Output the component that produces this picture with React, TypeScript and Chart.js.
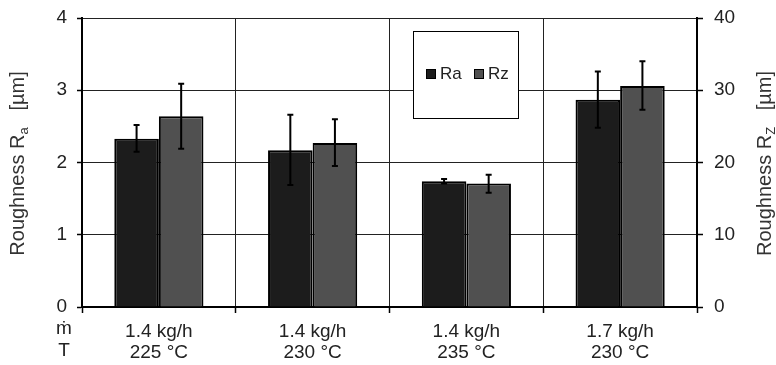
import React, { useEffect, useRef } from "react";
import { Chart, registerables } from "chart.js";

Chart.register(...registerables);

const categories: string[][] = [
  ["1.4 kg/h", "225 °C"],
  ["1.4 kg/h", "230 °C"],
  ["1.4 kg/h", "235 °C"],
  ["1.7 kg/h", "230 °C"],
];
const raValues = [2.33, 2.17, 1.74, 2.87];
const raLow = [2.15, 1.69, 1.71, 2.48];
const raHigh = [2.52, 2.66, 1.77, 3.26];
const rzValues = [26.4, 22.7, 17.1, 30.6];
const rzLow = [21.9, 19.5, 15.8, 27.3];
const rzHigh = [30.9, 26.0, 18.3, 34.0];
const leftTicks = [0, 1, 2, 3, 4];
const rightTicks = [0, 10, 20, 30, 40];
const rowLabels = ["ṁ", "T"];

const FONT = "'Liberation Sans', Arial, sans-serif";

const errorBarPlugin = {
  id: "errorBars",
  afterDatasetsDraw(chart: any) {
    const ctx = chart.ctx;
    const sets = [
      { low: raLow, high: raHigh, axis: "y" },
      { low: rzLow, high: rzHigh, axis: "y2" },
    ];
    ctx.save();
    ctx.strokeStyle = "#000";
    ctx.lineWidth = 2;
    sets.forEach((s, i) => {
      const meta = chart.getDatasetMeta(i);
      const scale = chart.scales[s.axis];
      meta.data.forEach((bar: any, j: number) => {
        const x = bar.x;
        const yt = scale.getPixelForValue(s.high[j]);
        const yb = scale.getPixelForValue(s.low[j]);
        ctx.beginPath();
        ctx.moveTo(x, yt);
        ctx.lineTo(x, yb);
        ctx.moveTo(x - 3, yt);
        ctx.lineTo(x + 3, yt);
        ctx.moveTo(x - 3, yb);
        ctx.lineTo(x + 3, yb);
        ctx.stroke();
      });
    });
    ctx.restore();
  },
};

const legendPlugin = {
  id: "customLegend",
  afterDatasetsDraw(chart: any) {
    const ctx = chart.ctx;
    const ca = chart.chartArea;
    const bx = ca.left + 331;
    const by = ca.top + 13;
    const bw = 105;
    const bh = 87;
    ctx.save();
    ctx.fillStyle = "#fff";
    ctx.fillRect(bx, by, bw, bh);
    ctx.strokeStyle = "#000";
    ctx.lineWidth = 1;
    ctx.strokeRect(bx + 0.5, by + 0.5, bw, bh);
    const items = [
      { label: "Ra", color: "#1c1c1c", x: bx + 13 },
      { label: "Rz", color: "#505050", x: bx + 61 },
    ];
    ctx.font = `17px ${FONT}`;
    ctx.textBaseline = "middle";
    items.forEach((it) => {
      ctx.fillStyle = it.color;
      ctx.fillRect(it.x, by + 38, 10, 10);
      ctx.strokeStyle = "#000";
      ctx.strokeRect(it.x + 0.5, by + 38.5, 9, 9);
      ctx.fillStyle = "#222";
      ctx.textAlign = "left";
      ctx.fillText(it.label, it.x + 14, by + 43);
    });
    ctx.restore();
  },
};

const titlePlugin = {
  id: "axisTitles",
  afterDraw(chart: any) {
    const ctx = chart.ctx;
    const ca = chart.chartArea;
    const cy = (ca.top + ca.bottom) / 2 + 1;
    const drawTitle = (cx: number, sub: string) => {
      ctx.save();
      ctx.translate(cx, cy);
      ctx.rotate(-Math.PI / 2);
      ctx.fillStyle = "#333";
      ctx.textBaseline = "alphabetic";
      ctx.textAlign = "left";
      const main = "Roughness R";
      const tail = "   [µm]";
      ctx.font = `20px ${FONT}`;
      const w1 = ctx.measureText(main).width;
      const w3 = ctx.measureText(tail).width;
      ctx.font = `13px ${FONT}`;
      const w2 = ctx.measureText(sub).width;
      const total = w1 + w2 + w3;
      let x = -total / 2;
      const base = 7;
      ctx.font = `20px ${FONT}`;
      ctx.fillText(main, x, base);
      x += w1;
      ctx.font = `13px ${FONT}`;
      ctx.fillText(sub, x, base + 4);
      x += w2;
      ctx.font = `20px ${FONT}`;
      ctx.fillText(tail, x, base);
      ctx.restore();
    };
    drawTitle(17, "a");
    drawTitle(764, "Z");

    ctx.save();
    ctx.font = `19px ${FONT}`;
    ctx.fillStyle = "#222";
    ctx.textAlign = "center";
    ctx.textBaseline = "middle";
    ctx.fillText(rowLabels[0], 64, ca.bottom + 22);
    ctx.fillText(rowLabels[1], 64, ca.bottom + 44);
    ctx.restore();
  },
};

export default function App() {
  const ref = useRef<HTMLCanvasElement>(null);
  useEffect(() => {
    if (!ref.current) return;
    const chart = new Chart(ref.current, {
      type: "bar",
      data: {
        labels: categories,
        datasets: [
          {
            label: "Ra",
            data: raValues,
            yAxisID: "y",
            backgroundColor: "#1c1c1c",
            borderColor: "#000",
            borderWidth: 2,
            categoryPercentage: 0.58,
            barPercentage: 1,
          },
          {
            label: "Rz",
            data: rzValues,
            yAxisID: "y2",
            backgroundColor: "#505050",
            borderColor: "#000",
            borderWidth: 2,
            categoryPercentage: 0.58,
            barPercentage: 1,
          },
        ],
      },
      options: {
        animation: false,
        responsive: false,
        maintainAspectRatio: false,
        layout: { padding: { top: 18, left: 0, right: 0, bottom: 0 } },
        plugins: {
          legend: { display: false },
          tooltip: { enabled: false },
        },
        scales: {
          x: {
            offset: true,
            grid: {
              offset: true,
              color: "#222",
              lineWidth: 1,
              tickLength: 6,
              tickColor: "#000",
              tickWidth: 1.5,
            },
            border: { color: "#000", width: 2 },
            ticks: {
              color: "#222",
              font: { family: FONT, size: 19, lineHeight: 1.1 },
              padding: 8,
              maxRotation: 0,
            },
            afterFit: (s: any) => {
              s.height = 58;
              s.paddingLeft = 0;
              s.paddingRight = 0;
            },
          },
          y: {
            position: "left",
            min: 0,
            max: 4,
            afterBuildTicks: (s: any) => {
              s.ticks = leftTicks.map((v) => ({ value: v }));
            },
            grid: {
              color: "#222",
              lineWidth: 1,
              tickLength: 5,
              tickColor: "#000",
              tickWidth: 1.5,
            },
            border: { color: "#000", width: 2 },
            ticks: {
              color: "#222",
              font: { family: FONT, size: 19 },
              padding: 10,
            },
            afterFit: (s: any) => {
              s.width = 82;
              s.paddingTop = 0;
              s.paddingBottom = 0;
            },
          },
          y2: {
            position: "right",
            min: 0,
            max: 40,
            afterBuildTicks: (s: any) => {
              s.ticks = rightTicks.map((v) => ({ value: v }));
            },
            grid: {
              drawOnChartArea: false,
              tickLength: 6,
              tickColor: "#000",
              tickWidth: 1.5,
            },
            border: { color: "#000", width: 2 },
            ticks: {
              color: "#222",
              font: { family: FONT, size: 19 },
              padding: 11,
            },
            afterFit: (s: any) => {
              s.width = 79;
              s.paddingTop = 0;
              s.paddingBottom = 0;
            },
          },
        },
      },
      plugins: [errorBarPlugin, legendPlugin, titlePlugin],
    });
    return () => chart.destroy();
  }, []);

  return (
    <div
      style={{
        position: "fixed",
        left: 0,
        top: 0,
        width: 776,
        height: 365,
        background: "#fff",
      }}
    >
      <canvas ref={ref} width={776} height={365} style={{ width: 776, height: 365 }} />
    </div>
  );
}
